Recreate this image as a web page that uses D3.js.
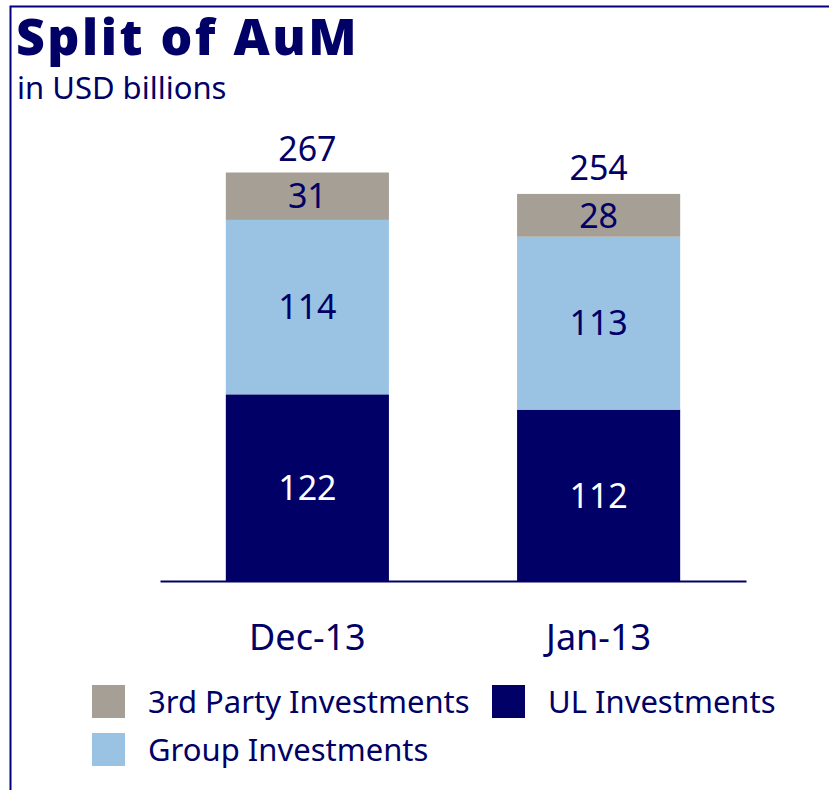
<!DOCTYPE html>
<html>
<head>
<meta charset="utf-8">
<script src="https://cdn.jsdelivr.net/npm/d3@7"></script>
<style>
  body { margin: 0; background: #fff; }
  svg { display: block; font-family: "Noto Sans", sans-serif; }
</style>
</head>
<body>
<svg id="chart" width="829" height="790"></svg>
<script>
// data
var categories = ["Dec-13", "Jan-13"];
var ulInvestments = [122, 112];
var groupInvestments = [114, 113];
var thirdParty = [31, 28];
var totals = [267, 254];

var seriesNames = ["UL Investments", "Group Investments", "3rd Party Investments"];
var seriesColors = ["#000066", "#99c2e3", "#a69f96"];
var labelColors = ["#ffffff", "#000066", "#000066"];

var navy = "#000066";

var rows = categories.map(function(c, i) {
  return { cat: c, "UL Investments": ulInvestments[i], "Group Investments": groupInvestments[i],
           "3rd Party Investments": thirdParty[i], total: totals[i] };
});

var svg = d3.select("#chart");

// frame: top + left rule
svg.append("path")
  .attr("d", "M10.5,790 L10.5,6.5 L829,6.5")
  .attr("fill", "none")
  .attr("stroke", "#000080")
  .attr("stroke-width", 2);

svg.append("text")
  .attr("x", 16).attr("y", 55)
  .attr("fill", navy)
  .style("font-size", "50px").style("font-weight", 900)
  .style("letter-spacing", "2.5px")
  .text("Split of AuM");

svg.append("text")
  .attr("x", 17).attr("y", 99)
  .attr("fill", navy)
  .style("font-size", "31px")
  .text("in USD billions");

var x = d3.scaleBand()
  .domain(categories)
  .range([160, 746])
  .paddingInner(0.44)
  .paddingOuter(0.226);

var y = d3.scaleLinear()
  .domain([0, 267])
  .range([581, 172.5]);

var stack = d3.stack().keys(seriesNames);
var layers = stack(rows);

var g = svg.append("g");

var layer = g.selectAll("g.layer")
  .data(layers)
  .enter().append("g")
  .attr("class", "layer")
  .attr("fill", function(d, i) { return seriesColors[i]; });

layer.selectAll("rect")
  .data(function(d) { return d; })
  .enter().append("rect")
  .attr("x", function(d) { return x(d.data.cat); })
  .attr("width", x.bandwidth())
  .attr("y", function(d) { return y(d[1]); })
  .attr("height", function(d) { return y(d[0]) - y(d[1]); });

layer.each(function(L, li) {
  d3.select(this).selectAll("text")
    .data(L)
    .enter().append("text")
    .attr("x", function(d) { return x(d.data.cat) + x.bandwidth() / 2; })
    .attr("y", function(d) { return (y(d[0]) + y(d[1])) / 2; })
    .attr("dy", "0.36em")
    .attr("text-anchor", "middle")
    .attr("fill", labelColors[li])
    .style("font-size", "34px")
    .text(function(d) { return d[1] - d[0]; });
});

// totals on top
g.selectAll("text.total")
  .data(rows)
  .enter().append("text")
  .attr("class", "total")
  .attr("x", function(d) { return x(d.cat) + x.bandwidth() / 2; })
  .attr("y", function(d) { return y(d.total) - 12; })
  .attr("text-anchor", "middle")
  .attr("fill", navy)
  .style("font-size", "34px")
  .text(function(d) { return d.total; });

// baseline axis
var axis = svg.append("g")
  .attr("transform", "translate(0," + y(0) + ")")
  .call(d3.axisBottom(x).tickSize(0).tickPadding(43));
axis.select(".domain").attr("stroke", navy).attr("stroke-width", 2);
axis.selectAll(".tick text")
  .attr("fill", navy)
  .style("font-size", "36px")
  .style("font-family", "'Noto Sans', sans-serif");

// legend
var legendItems = [
  { name: "3rd Party Investments", color: seriesColors[2], x: 92, y: 685 },
  { name: "UL Investments", color: seriesColors[0], x: 492, y: 685 },
  { name: "Group Investments", color: seriesColors[1], x: 92, y: 733 }
];
var leg = svg.selectAll("g.legend")
  .data(legendItems)
  .enter().append("g")
  .attr("class", "legend")
  .attr("transform", function(d) { return "translate(" + d.x + "," + d.y + ")"; });
leg.append("rect")
  .attr("width", 33).attr("height", 33)
  .attr("fill", function(d) { return d.color; });
leg.append("text")
  .attr("x", 56).attr("y", 28)
  .attr("fill", navy)
  .style("font-size", "31px")
  .text(function(d) { return d.name; });
</script>
</body>
</html>
